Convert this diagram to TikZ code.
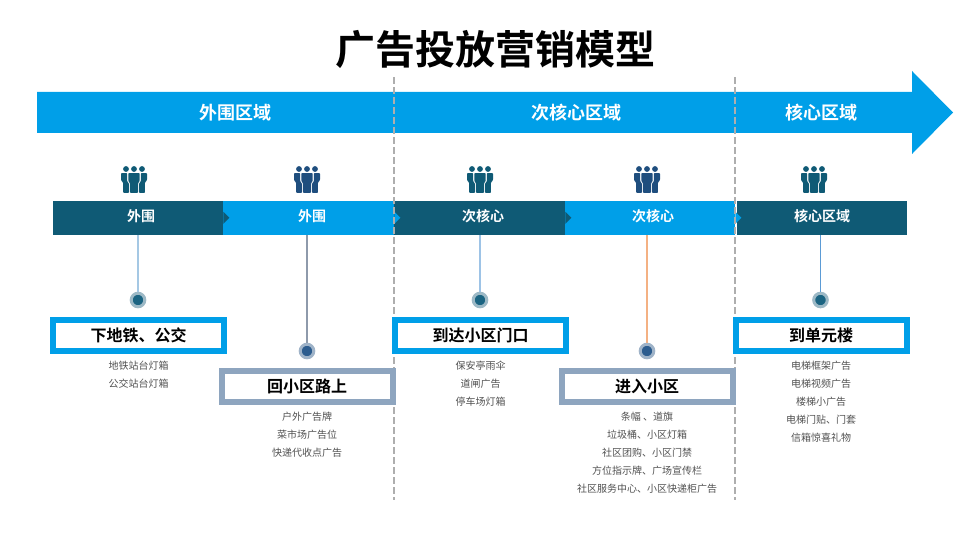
\documentclass[tikz,border=0pt]{standalone}
\usepackage{fontspec}
\setmainfont[BoldFont={Noto Sans CJK SC Bold}]{Noto Sans CJK SC}
\definecolor{headblue}{HTML}{009FE8}
\definecolor{darkteal}{HTML}{0F5A75}
\definecolor{iconnavy}{HTML}{1F4E7E}
\definecolor{slatebox}{HTML}{8EA5BF}
\definecolor{listgrey}{HTML}{505050}
\definecolor{dashgrey}{HTML}{AEAEAE}
\definecolor{ringteal}{HTML}{9DB9C6}
\definecolor{coreteal}{HTML}{1B6482}
\definecolor{ringnavy}{HTML}{9FB3C8}
\definecolor{corenavy}{HTML}{2C5C8E}
\definecolor{stema}{HTML}{A5C8E4}
\definecolor{stemb}{HTML}{8E9AAB}
\definecolor{stemc}{HTML}{9DC3E6}
\definecolor{stemd}{HTML}{F4B183}
\definecolor{steme}{HTML}{5B9BD5}
\tikzset{
  x=1pt,y=-1pt,
  titletext/.style={inner sep=0pt,font=\fontsize{40}{40}\selectfont\bfseries,text=black},
  headtext/.style={inner sep=0pt,font=\fontsize{18}{18}\selectfont\bfseries,text=white},
  segment/.style={draw=none,fill=#1,minimum height=34pt,inner sep=0pt,anchor=west},
  segtext/.style={inner sep=0pt,text=white,font=\fontsize{14}{14}\selectfont\bfseries},
  stepbox/.style={draw=#1,fill=white,line width=6pt,minimum width=171pt,minimum height=31pt,inner sep=0pt,text=black,font=\fontsize{16}{16}\selectfont\bfseries},
  dotnode/.style 2 args={circle,draw=#1,fill=#2,line width=3pt,minimum size=13.6pt,inner sep=0pt},
  stem/.style={line width=1.2pt,draw=#1},
  listtext/.style={anchor=north,inner sep=0pt,align=center,text=listgrey,font=\fontsize{10}{18}\selectfont},
  zone/.style={dash pattern=on 7pt off 3pt,line width=1.4pt,draw=dashgrey},
  people/.pic={
    \fill (-8,-11) circle (2.9) (0,-11) circle (2.9) (8,-11) circle (2.9);
    \fill[rounded corners=0.6pt] (-5.6,-6.8) -- (5.6,-6.8) -- (5.6,1) -- (4,3.5) -- (4,12.8) -- (-4,12.8) -- (-4,3.5) -- (-5.6,1) -- cycle;
    \fill[rounded corners=0.6pt] (-13,-6.8) -- (-6.8,-6.8) -- (-6.8,1.2) -- (-5,3.8) -- (-5,12.8) -- (-10.8,12.8) -- (-10.8,3) -- (-13,0) -- cycle;
    \fill[rounded corners=0.6pt] (13,-6.8) -- (6.8,-6.8) -- (6.8,1.2) -- (5,3.8) -- (5,12.8) -- (10.8,12.8) -- (10.8,3) -- (13,0) -- cycle;
  }
}
\begin{document}
\begin{tikzpicture}
\useasboundingbox (0,0) rectangle (960,540);
% title
\node[titletext] (title) at (495,49) {广告投放营销模型};
% big arrow
\fill[headblue] (37,92) -- (912,92) -- (912,71) -- (953,112.5) -- (912,154) -- (912,133) -- (37,133) -- cycle;
\node[headtext] (h1) at (235,112.5) {外围区域};
\node[headtext] (h2) at (576,112.5) {次核心区域};
\node[headtext] (h3) at (821,112.5) {核心区域};
% icons
\pic[darkteal] at (134,180) {people};
\pic[iconnavy] at (307,180) {people};
\pic[darkteal] at (480,180) {people};
\pic[iconnavy] at (647,180) {people};
\pic[darkteal] at (814,180) {people};
% segments
\node[segment=darkteal,minimum width=170pt] (s1) at (53,218) {};
\node[segment=headblue,minimum width=171pt] (s2) at (223,218) {};
\node[segment=darkteal,minimum width=171pt] (s3) at (394,218) {};
\node[segment=headblue,minimum width=170pt] (s4) at (565,218) {};
\node[segment=darkteal,minimum width=170pt] (s5) at (737,218) {};
\fill[darkteal] (s1.north east) ++(0,11) -- ++(6,6) -- ++(-6,6) -- cycle;
\fill[headblue] (s2.north east) ++(0,11) -- ++(6,6) -- ++(-6,6) -- cycle;
\fill[darkteal] (s3.north east) ++(0,11) -- ++(6,6) -- ++(-6,6) -- cycle;
\fill[headblue] (s4.north east) ++(0,11) -- ++(6,6) -- ++(-6,6) -- cycle;
\node[segtext] (t1) at (141,216.5) {外围};
\node[segtext] (t2) at (312,216.5) {外围};
\node[segtext] (t3) at (483,216.5) {次核心};
\node[segtext] (t4) at (653,216.5) {次核心};
\node[segtext] (t5) at (822,216.5) {核心区域};
% zone dividers
\coordinate (z1t) at (394,77);
\coordinate (z1b) at (394,500);
\coordinate (z2t) at (735,77);
\coordinate (z2b) at (735,500);
\draw[zone] (z1t) -- (z1b);
\draw[zone] (z2t) -- (z2b);
% dots
\node[dotnode={ringteal}{coreteal}] (d1) at (138,300) {};
\node[dotnode={ringnavy}{corenavy}] (d2) at (307,351) {};
\node[dotnode={ringteal}{coreteal}] (d3) at (480,300) {};
\node[dotnode={ringnavy}{corenavy}] (d4) at (647,351) {};
\node[dotnode={ringteal}{coreteal}] (d5) at (820.5,300) {};
% stems
\draw[stem=stema] (s1.south -| d1) -- (d1.north);
\draw[stem=stemb] (s2.south -| d2) -- (d2.north);
\draw[stem=stemc] (s3.south -| d3) -- (d3.north);
\draw[stem=stemd] (s4.south -| d4) -- (d4.north);
\draw[stem=steme] (s5.south -| d5) -- (d5.north);
% boxes
\node[stepbox=headblue] (b1) at (138.5,335.5) {下地铁、公交};
\node[stepbox=slatebox] (b2) at (307,386.5) {回小区路上};
\node[stepbox=headblue] (b3) at (480.5,335.5) {到达小区门口};
\node[stepbox=slatebox] (b4) at (647,386.5) {进入小区};
\node[stepbox=headblue] (b5) at (821,335.5) {到单元楼};
% lists
\node[listtext] (l1) at (138.5,361) {地铁站台灯箱\\公交站台灯箱};
\node[listtext] (l2) at (307,412) {户外广告牌\\菜市场广告位\\快递代收点广告};
\node[listtext] (l3) at (480.5,361) {保安亭雨伞\\道闸广告\\停车场灯箱};
\node[listtext] (l4) at (647,412) {条幅 、道旗\\垃圾桶、小区灯箱\\社区团购、小区门禁\\方位指示牌、广场宣传栏\\社区服务中心、小区快递柜广告};
\node[listtext] (l5) at (821,361) {电梯框架广告\\电梯视频广告\\楼梯小广告\\电梯门贴、门套\\信箱惊喜礼物};
\end{tikzpicture}
\end{document}
